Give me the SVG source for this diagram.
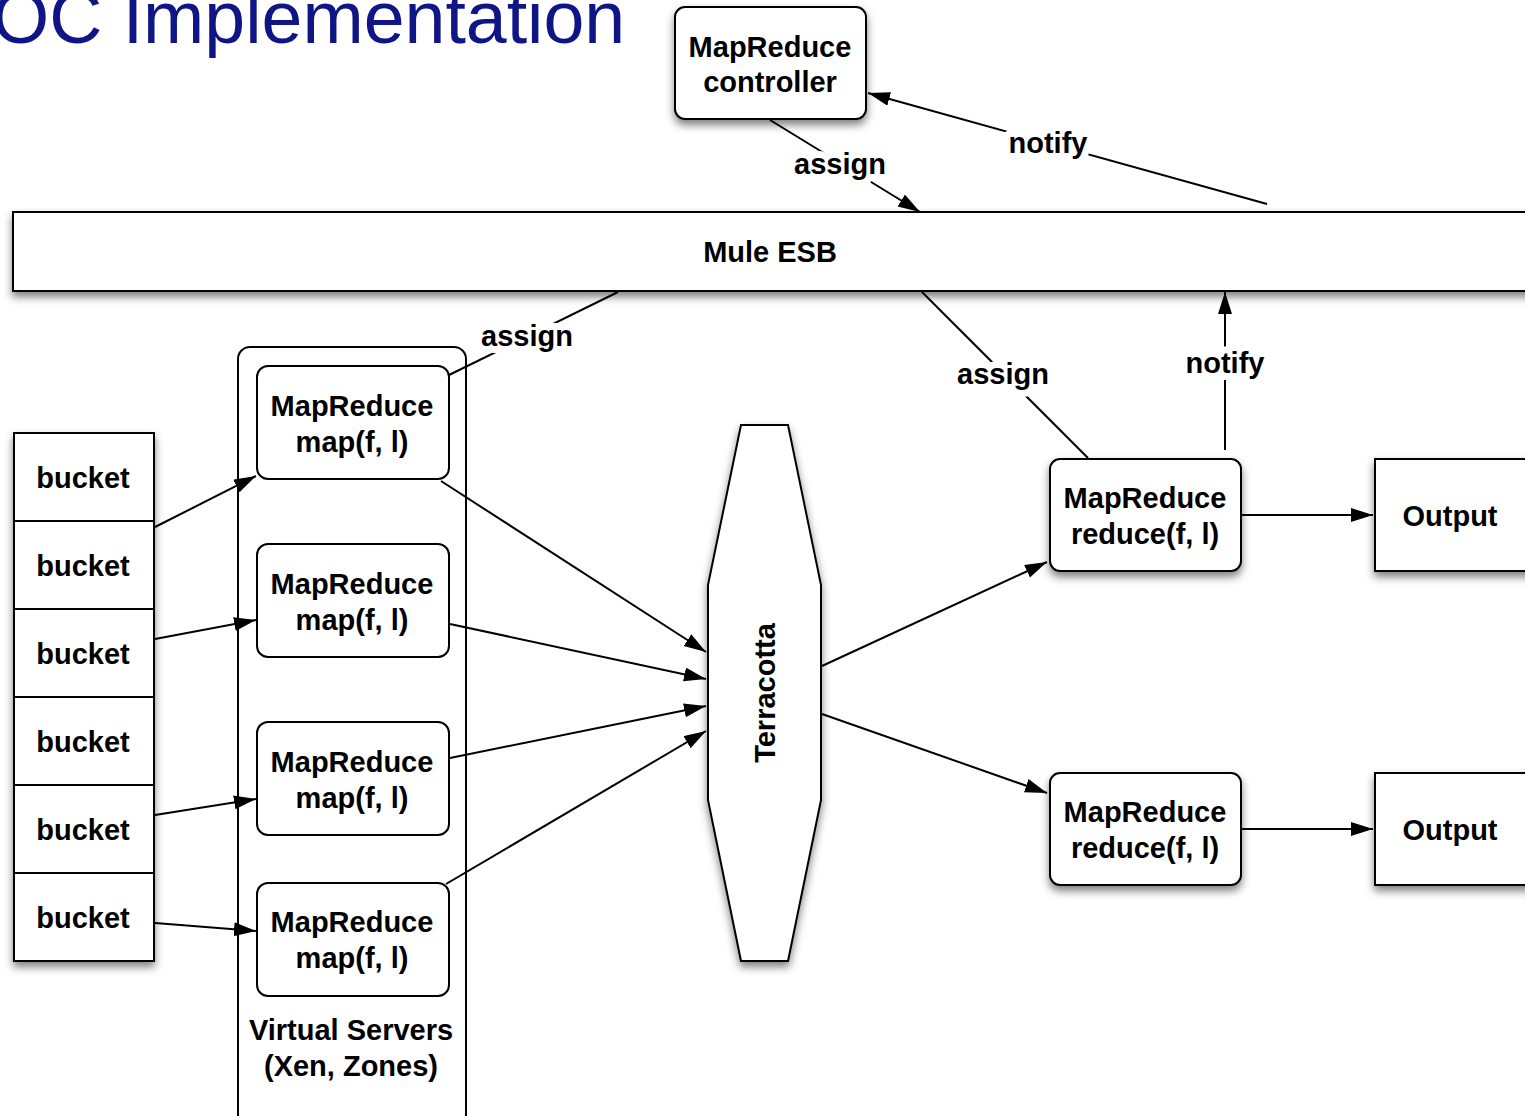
<svg xmlns="http://www.w3.org/2000/svg" width="1525" height="1116" viewBox="0 0 1525 1116">
<style>
.t{font-family:"Liberation Sans",Arial,sans-serif;font-weight:bold;font-size:29px;fill:#000;text-anchor:middle}
.box{fill:#fff;stroke:#000;stroke-width:2}
.ln{stroke:#000;stroke-width:2;fill:none}
.lbl{font-family:"Liberation Sans",Arial,sans-serif;font-weight:bold;font-size:29px;fill:#000;text-anchor:middle;stroke:#fff;stroke-width:14;paint-order:stroke;stroke-linejoin:round}
</style>
<defs>
<filter id="sh" x="-20%" y="-20%" width="140%" height="150%">
<feDropShadow dx="0" dy="5" stdDeviation="4" flood-color="#000" flood-opacity="0.5"/>
</filter>
<marker id="ar" markerUnits="userSpaceOnUse" markerWidth="24" markerHeight="16" refX="22" refY="7" orient="auto">
<path d="M0,0 L22,7 L0,14 Z" fill="#000"/>
</marker>
</defs>
<rect width="1525" height="1116" fill="#fff"/>
<text x="-8" y="43" font-family="Liberation Sans,Arial,sans-serif" font-size="73.5" fill="#0f1584">OC Implementation</text>

<g id="esb">
<rect class="box" x="13" y="212" width="1530" height="79" filter="url(#sh)"/>
<text class="t" x="770" y="262">Mule ESB</text>
</g>

<g id="virtual-servers">
<rect class="box" x="238" y="347" width="228" height="790" rx="12"/>
<text class="t" x="351" y="1040">Virtual Servers</text>
<text class="t" x="351" y="1076">(Xen, Zones)</text>
</g>

<g id="connectors">
<line class="ln" x1="770" y1="120" x2="920" y2="212" marker-end="url(#ar)"/>
<line class="ln" x1="1267" y1="204" x2="868" y2="93" marker-end="url(#ar)"/>
<line class="ln" x1="618" y1="292" x2="449" y2="375"/>
<line class="ln" x1="922" y1="292" x2="1088" y2="458"/>
<line class="ln" x1="1225" y1="450" x2="1225" y2="292" marker-end="url(#ar)"/>
<line class="ln" x1="1242" y1="515" x2="1373" y2="515" marker-end="url(#ar)"/>
<line class="ln" x1="1242" y1="829" x2="1373" y2="829" marker-end="url(#ar)"/>
<line class="ln" x1="822" y1="666" x2="1047" y2="562" marker-end="url(#ar)"/>
<line class="ln" x1="822" y1="714" x2="1047" y2="793" marker-end="url(#ar)"/>
<line class="ln" x1="441" y1="481" x2="706" y2="652" marker-end="url(#ar)"/>
<line class="ln" x1="450" y1="624" x2="706" y2="679" marker-end="url(#ar)"/>
<line class="ln" x1="450" y1="758" x2="706" y2="706" marker-end="url(#ar)"/>
<line class="ln" x1="446" y1="884" x2="706" y2="731" marker-end="url(#ar)"/>
<line class="ln" x1="155" y1="527" x2="256" y2="476" marker-end="url(#ar)"/>
<line class="ln" x1="155" y1="639" x2="256" y2="620" marker-end="url(#ar)"/>
<line class="ln" x1="155" y1="815" x2="256" y2="799" marker-end="url(#ar)"/>
<line class="ln" x1="155" y1="923" x2="256" y2="931" marker-end="url(#ar)"/>
<text class="lbl" x="840" y="174">assign</text>
<text class="lbl" x="1048" y="153">notify</text>
<text class="lbl" x="527" y="346">assign</text>
<text class="lbl" x="1003" y="384">assign</text>
<text class="lbl" x="1225" y="373">notify</text>
</g>

<g id="controller">
<rect class="box" x="675" y="7" width="191" height="112" rx="10" filter="url(#sh)"/>
<text class="t" x="770" y="57">MapReduce</text>
<text class="t" x="770" y="92">controller</text>
</g>

<g id="buckets">
<rect class="box" x="14" y="433" width="140" height="528" filter="url(#sh)"/>
<line class="ln" x1="14" y1="521" x2="154" y2="521"/>
<line class="ln" x1="14" y1="609" x2="154" y2="609"/>
<line class="ln" x1="14" y1="697" x2="154" y2="697"/>
<line class="ln" x1="14" y1="785" x2="154" y2="785"/>
<line class="ln" x1="14" y1="873" x2="154" y2="873"/>
<text class="t" x="83" y="488">bucket</text>
<text class="t" x="83" y="576">bucket</text>
<text class="t" x="83" y="664">bucket</text>
<text class="t" x="83" y="752">bucket</text>
<text class="t" x="83" y="840">bucket</text>
<text class="t" x="83" y="928">bucket</text>
</g>

<g id="map1">
<rect class="box" x="257" y="366" width="192" height="113" rx="11"/>
<text class="t" x="352" y="416">MapReduce</text>
<text class="t" x="352" y="452">map(f, l)</text>
</g>
<g id="map2">
<rect class="box" x="257" y="544" width="192" height="113" rx="11"/>
<text class="t" x="352" y="594">MapReduce</text>
<text class="t" x="352" y="630">map(f, l)</text>
</g>
<g id="map3">
<rect class="box" x="257" y="722" width="192" height="113" rx="11"/>
<text class="t" x="352" y="772">MapReduce</text>
<text class="t" x="352" y="808">map(f, l)</text>
</g>
<g id="map4">
<rect class="box" x="257" y="883" width="192" height="113" rx="11"/>
<text class="t" x="352" y="932">MapReduce</text>
<text class="t" x="352" y="968">map(f, l)</text>
</g>

<g id="terracotta">
<polygon class="box" points="741,425 788,425 821,585 821,800 788,961 741,961 708,800 708,585" filter="url(#sh)"/>
<text class="t" transform="translate(775,693) rotate(-90)">Terracotta</text>
</g>

<g id="reduce1">
<rect class="box" x="1050" y="459" width="191" height="112" rx="10" filter="url(#sh)"/>
<text class="t" x="1145" y="508">MapReduce</text>
<text class="t" x="1145" y="544">reduce(f, l)</text>
</g>
<g id="reduce2">
<rect class="box" x="1050" y="773" width="191" height="112" rx="10" filter="url(#sh)"/>
<text class="t" x="1145" y="822">MapReduce</text>
<text class="t" x="1145" y="858">reduce(f, l)</text>
</g>

<g id="output1">
<rect class="box" x="1375" y="459" width="170" height="112" filter="url(#sh)"/>
<text class="t" x="1450" y="526">Output</text>
</g>
<g id="output2">
<rect class="box" x="1375" y="773" width="170" height="112" filter="url(#sh)"/>
<text class="t" x="1450" y="840">Output</text>
</g>
</svg>
